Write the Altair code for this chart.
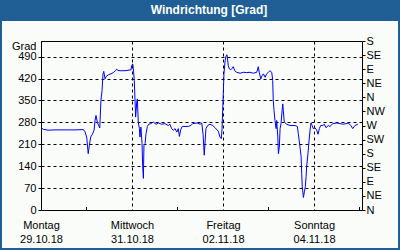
import altair as alt
import pandas as pd

# hours after Montag 29.10.18 00:00 and wind direction in degrees
hours = [0, 1.2, 3.7, 7.4, 12.7, 17.9, 22.3, 23.2, 24.1, 24.9, 25.5, 26.2, 27.1, 28.0, 28.5, 29.0,
         29.7, 30.4, 31.0, 31.6, 32.2, 32.7, 33.1, 33.8, 34.3, 35.5, 36.9, 38.1, 39.3, 39.9, 40.6,
         41.7, 44.3, 47.5, 47.8, 48.4, 48.7, 49.2, 49.6, 49.9, 50.5, 50.8, 51.3, 51.9, 52.2, 52.7,
         53.3, 53.6, 54.0, 54.3, 54.9, 55.4, 56.1, 56.8, 57.9, 59.2, 60.7, 61.9, 63.7, 65.4, 67.1,
         68.0, 68.9, 69.8, 70.7, 71.6, 72.4, 73.0, 73.7, 74.5, 77.7, 79.0, 80.0, 82.4, 83.9, 84.8,
         85.5, 86.1, 86.7, 87.0, 87.9, 89.1, 90.6, 91.8, 93.5, 94.4, 95.1, 95.5, 95.8, 96.2, 96.5,
         97.1, 97.6, 98.1, 98.8, 99.3, 100.1, 100.7, 101.4, 102.2, 103.2, 105.0, 106.7, 108.5,
         110.2, 112.0, 113.8, 114.6, 115.1, 115.9, 116.6, 117.3, 118.2, 119.0, 119.9, 120.8, 121.7,
         122.2, 122.5, 122.9, 123.4, 124.0, 124.3, 124.9, 125.2, 125.7, 126.1, 126.6, 127.1, 127.5,
         127.8, 128.3, 129.6, 131.3, 134.0, 135.2, 135.7, 136.6, 137.2, 137.5, 137.8, 138.4, 138.9,
         139.4, 139.8, 140.1, 140.8, 141.4, 141.9, 142.4, 143.0, 143.6, 144.5, 145.4, 146.1, 146.8,
         147.5, 148.6, 149.4, 150.3, 151.5, 152.4, 153.9, 156.0, 157.7, 159.5, 160.9, 162.1, 163.4,
         164.4, 165.6, 167.1]
degrees = [263, 258, 255, 256, 256, 256, 257, 250, 233, 180, 207, 233, 242, 255, 286, 302,
           281, 270, 262, 350, 382, 435, 443, 419, 426, 432, 435, 439, 445, 450, 446,
           445, 445, 448, 461, 467, 451, 414, 350, 297, 345, 355, 281, 260, 233, 265,
           212, 143, 101, 207, 212, 244, 267, 274, 276, 281, 274, 278, 274, 276, 270,
           274, 260, 255, 260, 249, 260, 235, 257, 267, 267, 270, 276, 278, 274, 278,
           240, 175, 233, 260, 270, 274, 270, 263, 252, 233, 228, 260, 318, 382, 435,
           477, 493, 496, 461, 451, 448, 452, 458, 445, 440, 437, 440, 439,
           440, 437, 440, 458, 440, 419, 429, 435, 424, 435, 440, 445, 440,
           414, 350, 318, 286, 260, 286, 233, 180, 201, 260, 276, 313, 339,
           318, 281, 274, 270, 270, 267, 244, 201, 170, 117, 74, 40, 58,
           74, 106, 138, 180, 223, 255, 278, 270, 260, 263, 255, 242, 260,
           270, 270, 274, 263, 270, 267, 276, 278, 276, 274, 276, 278, 270,
           260, 270, 274]

left_values = [0, 70, 140, 210, 280, 350, 420, 490]
right_values = [0, 45, 90, 135, 180, 225, 270, 315, 360, 405, 450, 495, 540]
compass = ["N", "NE", "E", "SE", "S", "SW", "W", "NW"]
label_hours = [0, 48, 96, 144]
label_days = ["Montag", "Mittwoch", "Freitag", "Sonntag"]
label_dates = ["29.10.18", "31.10.18", "02.11.18", "04.11.18"]
minor_hours = [24, 72, 120, 168]
title_text = "Windrichtung [Grad]"

df = pd.DataFrame({"h": hours, "deg": degrees})

FONT = "Liberation Sans"
BLUE = "#1f5f96"

xscale = alt.Scale(domain=[0, 169.3], nice=False, zero=False)
yscale = alt.Scale(domain=[0, 540], nice=False, zero=False)


def js_list(items):
    return "[" + ",".join("'%s'" % s for s in items) + "]"


idx = "indexof(%s, datum.value)" % ("[" + ",".join(str(v) for v in label_hours) + "]")
x_axis_days = alt.Axis(
    orient="bottom", values=label_hours,
    labelExpr="%s[%s]" % (js_list(label_days), idx),
    title=None, ticks=False, domain=False, grid=True, gridDash=[3, 3], gridColor="black",
    gridOpacity=1, labelPadding=9, labelFlush=False, labelOverlap=False,
    labelFont=FONT, labelFontSize=11, labelColor="black", labelAngle=0,
)
x_axis_dates = alt.Axis(
    orient="bottom", values=label_hours,
    labelExpr="%s[%s]" % (js_list(label_dates), idx),
    title=None, ticks=False, domain=False, grid=False,
    labelPadding=23, labelFlush=False, labelOverlap=False,
    labelFont=FONT, labelFontSize=11, labelColor="black", labelAngle=0,
)

left_axis = alt.Axis(
    orient="left", values=left_values, title="Grad", titleAngle=0, titleAlign="right",
    titleBaseline="middle", titleX=-5, titleY=5, titleFont=FONT, titleFontSize=11,
    titleFontWeight="normal", titleColor="black", grid=True, gridDash=[3, 3],
    gridColor="black", gridOpacity=1, domain=False, ticks=True, tickSize=3,
    tickColor="black", labelPadding=2, labelFont=FONT, labelFontSize=11, labelColor="black",
)

right_axis = alt.Axis(
    orient="right", values=right_values, title=None, grid=False, domain=False,
    ticks=True, tickSize=3, tickColor="black", labelPadding=1,
    labelExpr=js_list(compass) + "[round(datum.value/45)%8]",
    labelFont=FONT, labelFontSize=11, labelColor="black", labelBaseline="middle",
)

one = alt.Data(values=[{"a": 1}])

title_bar = alt.Chart(one).mark_rect(color=BLUE).encode(
    x=alt.value(-41), x2=alt.value(359), y=alt.value(-41), y2=alt.value(-20))
title_mark = alt.Chart(one).mark_text(
    text=title_text, font=FONT, fontWeight="bold", fontSize=12, color="white",
    align="center", baseline="alphabetic").encode(x=alt.value(168), y=alt.value(-27))
border = alt.Chart(one).mark_rect(fillOpacity=0, stroke=BLUE, strokeWidth=2).encode(
    x=alt.value(-40), x2=alt.value(358), y=alt.value(-41), y2=alt.value(208))

minor = alt.Chart(pd.DataFrame({"h": minor_hours})).mark_rule(color="black").encode(
    x=alt.X("h:Q", scale=xscale, axis=None), y=alt.value(166), y2=alt.value(169))

line = alt.Chart(df).mark_line(color="#0000ff", strokeWidth=1).encode(
    x=alt.X("h:Q", scale=xscale, axis=x_axis_days),
    y=alt.Y("deg:Q", scale=yscale, axis=left_axis))
right = alt.Chart(df).mark_line(opacity=0).encode(
    x=alt.X("h:Q", scale=xscale, axis=x_axis_dates),
    y=alt.Y("deg:Q", scale=yscale, axis=right_axis))

chart = alt.layer(title_bar, border, minor, line, right, title_mark).resolve_scale(
    x="shared", y="shared").resolve_axis(x="independent", y="independent").properties(
    width=321, height=169,
    padding={"left": 41, "top": 41, "right": 38, "bottom": 40},
    autosize=alt.AutoSizeParams(type="none"),
    background="#fafcfa",
).configure_view(stroke="black", strokeWidth=1)

chart.save("out.html", embed_options={"renderer": "svg", "actions": False})
